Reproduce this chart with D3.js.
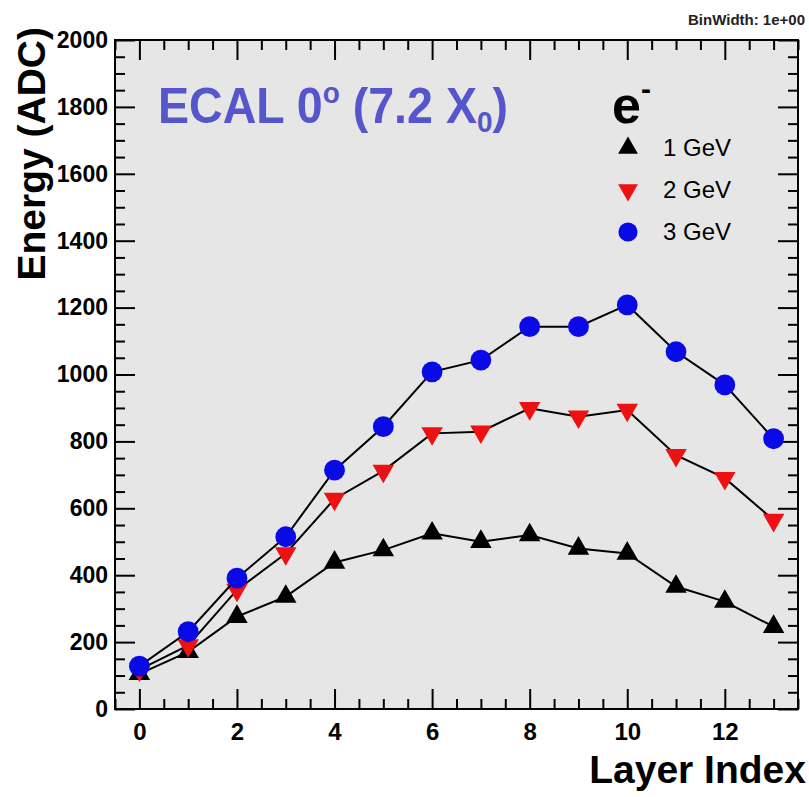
<!DOCTYPE html>
<html>
<head>
<meta charset="utf-8">
<script src="https://cdn.jsdelivr.net/npm/d3@7"></script>
<style>
  body { margin: 0; background: #fff; }
  svg { display: block; font-family: "Liberation Sans", Arial, Helvetica, sans-serif; }
</style>
</head>
<body>
<svg id="drawing_region"></svg>
<script>
// layer index 0..13
const layers = [0, 1, 2, 3, 4, 5, 6, 7, 8, 9, 10, 11, 12, 13];
const energy1GeV = [105, 171, 276, 336, 438, 475, 525, 500, 520, 480, 465, 366, 321, 246];
const energy2GeV = [118, 190, 356, 465, 628, 712, 824, 829, 899, 874, 894, 759, 690, 565];
const energy3GeV = [128, 231, 391, 515, 714, 844, 1008, 1043, 1143, 1143, 1208, 1068, 969, 808];
const seriesNames = ["1 GeV", "2 GeV", "3 GeV"];
const xTicks = [0, 2, 4, 6, 8, 10, 12];
const yTicks = [0, 200, 400, 600, 800, 1000, 1200, 1400, 1600, 1800, 2000];

const config = {
    width: 809,
    height: 797,
    margin: {top: 40, right: 11, bottom: 88, left: 115}
};

const svg = d3.select('#drawing_region')
    .attr('width', config.width)
    .attr('height', config.height);

const inner_width = config.width - config.margin.left - config.margin.right;
const inner_height = config.height - config.margin.top - config.margin.bottom;

const chart = svg.append('g')
    .attr('transform', `translate(${config.margin.left}, ${config.margin.top})`);

const xscale = d3.scaleLinear()
    .domain([-0.5, 13.5])
    .range([0, inner_width]);

const yscale = d3.scaleLinear()
    .domain([0, 2000])
    .range([inner_height, 0]);

// plot area
chart.append('rect')
    .attr('width', inner_width)
    .attr('height', inner_height)
    .attr('fill', '#e6e6e6');

const xMinor = d3.range(-0.5, 13.51, 0.5).filter(v => v % 2 !== 0);
const yMinor = d3.range(0, 2001, 50).filter(v => v % 200 !== 0);

function styleAxis(g) {
    g.select('.domain').remove();
    g.selectAll('.tick line').attr('stroke', '#000').attr('stroke-width', 2);
    g.selectAll('.tick text')
        .attr('fill', '#000')
        .attr('font-size', '23px')
        .attr('font-weight', 'bold')
        .attr('font-family', '"Liberation Sans", Arial, sans-serif');
}

// bottom / top axes
chart.append('g')
    .attr('transform', `translate(0, ${inner_height})`)
    .call(d3.axisBottom(xscale).tickValues(xTicks).tickSizeInner(-20).tickSizeOuter(0).tickPadding(14).tickFormat(d3.format('d')))
    .call(styleAxis)
    .selectAll('.tick text').attr('font-size', '24px');
chart.append('g')
    .attr('transform', `translate(0, ${inner_height})`)
    .call(d3.axisBottom(xscale).tickValues(xMinor).tickSizeInner(-10).tickSizeOuter(0).tickFormat(''))
    .call(styleAxis);
chart.append('g')
    .call(d3.axisTop(xscale).tickValues(xTicks).tickSizeInner(-20).tickSizeOuter(0).tickFormat(''))
    .call(styleAxis);
chart.append('g')
    .call(d3.axisTop(xscale).tickValues(xMinor).tickSizeInner(-10).tickSizeOuter(0).tickFormat(''))
    .call(styleAxis);

// left / right axes
chart.append('g')
    .call(d3.axisLeft(yscale).tickValues(yTicks).tickSizeInner(-20).tickSizeOuter(0).tickPadding(7).tickFormat(d3.format('d')))
    .call(styleAxis);
chart.append('g')
    .call(d3.axisLeft(yscale).tickValues(yMinor).tickSizeInner(-10).tickSizeOuter(0).tickFormat(''))
    .call(styleAxis);
chart.append('g')
    .attr('transform', `translate(${inner_width}, 0)`)
    .call(d3.axisRight(yscale).tickValues(yTicks).tickSizeInner(-20).tickSizeOuter(0).tickFormat(''))
    .call(styleAxis);
chart.append('g')
    .attr('transform', `translate(${inner_width}, 0)`)
    .call(d3.axisRight(yscale).tickValues(yMinor).tickSizeInner(-10).tickSizeOuter(0).tickFormat(''))
    .call(styleAxis);

// series
const series = [
    {name: seriesNames[0], values: energy1GeV, color: '#000000', shape: d3.symbolTriangle, rotate: 0, size: 200},
    {name: seriesNames[1], values: energy2GeV, color: '#ee1111', shape: d3.symbolTriangle, rotate: 180, size: 200},
    {name: seriesNames[2], values: energy3GeV, color: '#0a0ae6', shape: d3.symbolCircle, rotate: 0, size: 340}
];

const line = d3.line()
    .x(d => xscale(d[0]))
    .y(d => yscale(d[1]));

series.forEach(s => {
    const pts = layers.map((l, i) => [l, s.values[i]]);
    chart.append('path')
        .datum(pts)
        .attr('d', line)
        .attr('fill', 'none')
        .attr('stroke', '#000')
        .attr('stroke-width', 2);
    chart.selectAll(null)
        .data(pts)
        .enter()
        .append('path')
        .attr('d', d3.symbol().type(s.shape).size(s.size))
        .attr('transform', d => `translate(${xscale(d[0])}, ${yscale(d[1])}) rotate(${s.rotate})`)
        .attr('fill', s.color);
});

// frame
chart.append('rect')
    .attr('width', inner_width)
    .attr('height', inner_height)
    .attr('fill', 'none')
    .attr('stroke', '#000')
    .attr('stroke-width', 2);

// axis titles
svg.append('text')
    .attr('x', 806)
    .attr('y', 783)
    .attr('text-anchor', 'end')
    .attr('font-size', '39px')
    .attr('font-weight', 'bold')
    .text('Layer Index');

svg.append('text')
    .attr('transform', 'translate(45, 27) rotate(-90)')
    .attr('text-anchor', 'end')
    .attr('font-size', '39px')
    .attr('font-weight', 'bold')
    .text('Energy (ADC)');

svg.append('text')
    .attr('x', 805)
    .attr('y', 25)
    .attr('text-anchor', 'end')
    .attr('font-size', '15px')
    .attr('font-weight', 'bold')
    .attr('fill', '#222')
    .text('BinWidth: 1e+00');

// title inside the frame
const title = svg.append('text')
    .attr('x', 158)
    .attr('y', 123)
    .attr('font-size', '50px')
    .attr('font-weight', 'bold')
    .attr('fill', '#5555cc')
    .attr('textLength', 350)
    .attr('lengthAdjust', 'spacingAndGlyphs');
title.append('tspan').text('ECAL 0');
title.append('tspan').attr('font-size', '30px').attr('dy', -20).text('o');
title.append('tspan').attr('dy', 20).text(' (7.2 X');
title.append('tspan').attr('font-size', '30px').attr('dy', 9).text('0');
title.append('tspan').attr('dy', -9).text(')');

// particle label
const part = svg.append('text')
    .attr('x', 612)
    .attr('y', 123)
    .attr('font-size', '52px')
    .attr('font-weight', 'bold')
    .attr('fill', '#000');
part.append('tspan').text('e');
part.append('tspan').attr('font-size', '30px').attr('dy', -24).text('-');

// legend
const legend = svg.append('g')
    .attr('transform', 'translate(628, 148)');
series.forEach((s, i) => {
    const row = legend.append('g').attr('transform', `translate(0, ${i * 42})`);
    row.append('path')
        .attr('d', d3.symbol().type(s.shape).size(s.size * 0.85))
        .attr('transform', `rotate(${s.rotate})`)
        .attr('fill', s.color);
    row.append('text')
        .attr('x', 35)
        .attr('y', 8)
        .attr('font-size', '24px')
        .attr('fill', '#000')
        .text(s.name);
});
</script>
</body>
</html>
